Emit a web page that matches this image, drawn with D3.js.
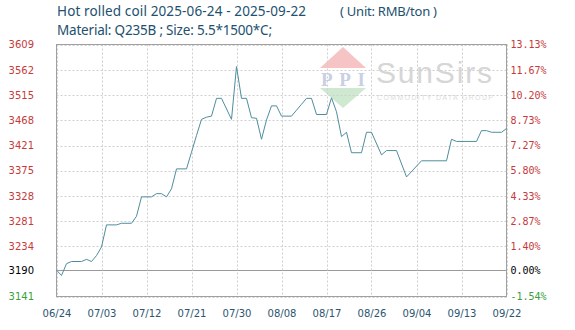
<!DOCTYPE html>
<html><head><meta charset="utf-8">
<script src="https://cdn.jsdelivr.net/npm/d3@7"></script>
<style>html,body{margin:0;padding:0;background:#fff;}svg{display:block;}</style>
</head><body>
<svg id="c" width="575" height="330"></svg>
<script>
const titleLine1 = "Hot rolled coil 2025-06-24 - 2025-09-22";
const titleUnit = "( Unit: RMB/ton )";
const titleLine2 = "Material: Q235B ; Size: 5.5*1500*C;";

const dates = ["2025-06-24","2025-06-25","2025-06-26","2025-06-27","2025-06-29","2025-06-30","2025-07-01","2025-07-02","2025-07-03","2025-07-04",
"2025-07-06","2025-07-07","2025-07-09","2025-07-10","2025-07-11","2025-07-13","2025-07-14","2025-07-15","2025-07-16","2025-07-17",
"2025-07-18","2025-07-20","2025-07-21","2025-07-22","2025-07-23","2025-07-24","2025-07-25","2025-07-26","2025-07-27","2025-07-29",
"2025-07-30","2025-07-31","2025-08-01","2025-08-02","2025-08-03","2025-08-04","2025-08-05","2025-08-06","2025-08-07","2025-08-08",
"2025-08-10","2025-08-11","2025-08-12","2025-08-13","2025-08-14","2025-08-15","2025-08-17","2025-08-18","2025-08-19","2025-08-20",
"2025-08-21","2025-08-22","2025-08-24","2025-08-25","2025-08-26","2025-08-28","2025-08-29","2025-08-31","2025-09-02","2025-09-05",
"2025-09-10","2025-09-11","2025-09-12","2025-09-16","2025-09-17","2025-09-18","2025-09-19","2025-09-21","2025-09-22"];
const prices = [3190,3180,3202,3206,3206,3210,3206,3217,3233,3274,
3274,3277,3277,3290,3326,3326,3332,3332,3326,3341,
3378,3378,3409,3440,3470,3474,3476,3509,3509,3470,
3568,3509,3509,3473,3472,3433,3469,3495,3495,3476,
3476,3487,3498,3509,3509,3479,3479,3510,3484,3438,
3446,3408,3408,3446,3446,3404,3412,3412,3363,3393,
3393,3433,3429,3429,3449,3449,3446,3446,3453];

const yTicks = [3141,3190,3234,3281,3328,3375,3421,3468,3515,3562,3609];
const pctLabels = ["-1.54%","0.00%","1.40%","2.87%","4.33%","5.80%","7.27%","8.73%","10.20%","11.67%","13.13%"];
const xTickLabels = ["06/24","07/03","07/12","07/21","07/30","08/08","08/17","08/26","09/04","09/13","09/22"];
const baseValue = 3190;

const svg = d3.select("#c");
const L = 56.5, R = 506.5, T = 44.5, B = 296.5;
const parse = d3.utcParse("%Y-%m-%d");
const x = d3.scaleUtc().domain([parse("2025-06-24"), parse("2025-09-22")]).range([L, R]);
const y = d3.scaleLinear().domain([3141, 3609]).range([B, T]);
const xTickDates = xTickLabels.map(s => parse("2025-" + s.replace("/", "-")));

// watermark
const wm = svg.append("g");
wm.append("path").attr("d", "M343,47 L366,68 L320,68 Z").attr("fill", "#f6c4c4");
wm.append("path").attr("d", "M320,88 L366,88 L343,108 Z").attr("fill", "#cfe9d0");
wm.append("text").attr("x", 343).attr("y", 86).attr("text-anchor", "middle")
  .attr("font-family", "Liberation Serif").attr("font-size", 19).attr("font-weight", "bold")
  .attr("fill", "#c9d0e2").attr("textLength", 44).text("PPI");
wm.append("text").attr("x", 376).attr("y", 83).attr("font-family", "Liberation Sans")
  .attr("font-size", 30).attr("fill", "#d6d6d6").attr("textLength", 116).text("SunSirs");
wm.append("text").attr("x", 377).attr("y", 100).attr("font-family", "Liberation Sans")
  .attr("font-size", 7).attr("fill", "#dcdcdc").attr("textLength", 116).text("COMMODITY DATA GROUP");

// grid
const grid = svg.append("g");
grid.selectAll("line.h").data(yTicks).join("line")
  .attr("x1", L).attr("x2", R)
  .attr("y1", d => Math.round(y(d)) + 0.5).attr("y2", d => Math.round(y(d)) + 0.5)
  .attr("stroke", d => d === baseValue ? "#999" : "#cfcfcf")
  .attr("stroke-dasharray", d => d === baseValue ? null : "2,2");
grid.selectAll("line.v").data(xTickDates).join("line")
  .attr("y1", T).attr("y2", B)
  .attr("x1", d => Math.round(x(d)) + 0.5).attr("x2", d => Math.round(x(d)) + 0.5)
  .attr("stroke", "#cfcfcf").attr("stroke-dasharray", "2,2");

svg.append("rect").attr("x", L).attr("y", T).attr("width", R - L).attr("height", B - T)
  .attr("fill", "none").attr("stroke", "#a0a0a0");

// line
const pts = dates.map((d, i) => ({ d: parse(d), v: prices[i] }));
svg.append("path").datum(pts)
  .attr("d", d3.line().x(p => x(p.d)).y(p => y(p.v)))
  .attr("fill", "none").attr("stroke", "#4f8d9e").attr("stroke-width", 1);

// axes labels
const col = v => v > baseValue ? "#c63a3a" : (v === baseValue ? "#000" : "#3a9e3a");
const yAxisL = d3.axisLeft(y).tickValues(yTicks).tickSize(0).tickPadding(0).tickFormat(d3.format("d"));
const gl = svg.append("g").attr("transform", "translate(34,0)").call(yAxisL);
gl.select(".domain").remove();
gl.selectAll("text").attr("font-family", "DejaVu Sans").attr("font-size", 10).attr("fill", d => col(d));

const yAxisR = d3.axisRight(y).tickValues(yTicks).tickSize(0).tickPadding(0).tickFormat((d, i) => pctLabels[i]);
const gr = svg.append("g").attr("transform", "translate(510.5,0)").call(yAxisR);
gr.select(".domain").remove();
gr.selectAll("text").attr("font-family", "DejaVu Sans Mono").attr("font-size", 10).attr("fill", d => col(d));

const xAxis = d3.axisBottom(x).tickValues(xTickDates).tickSize(0).tickPadding(0).tickFormat((d, i) => xTickLabels[i]);
const gx = svg.append("g").attr("transform", "translate(0,310)").call(xAxis);
gx.select(".domain").remove();
gx.selectAll("text").attr("font-family", "DejaVu Sans").attr("font-size", 10).attr("fill", "#2b5570");

// titles
svg.append("text").attr("x", 57).attr("y", 16).attr("font-family", "Noto Sans").attr("font-size", 13.5)
  .attr("fill", "#22506e").attr("textLength", 249).text(titleLine1);
svg.append("text").attr("x", 340).attr("y", 16).attr("font-family", "Noto Sans").attr("font-size", 13)
  .attr("fill", "#22506e").attr("textLength", 97).attr("xml:space", "preserve").style("white-space", "pre").text(titleUnit);
svg.append("text").attr("x", 57).attr("y", 35).attr("font-family", "Noto Sans").attr("font-size", 13.5)
  .attr("fill", "#22506e").attr("textLength", 215).text(titleLine2);
</script>
</body></html>
